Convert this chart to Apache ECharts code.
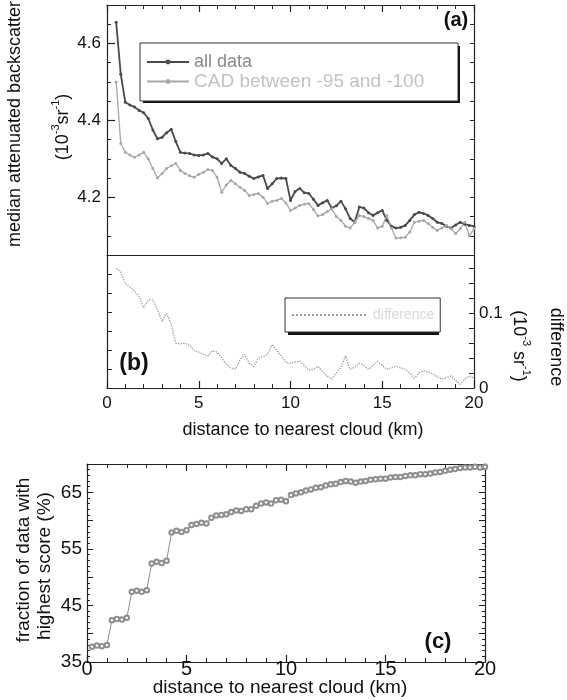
<!DOCTYPE html>
<html>
<head>
<meta charset="utf-8">
<script src="https://cdn.jsdelivr.net/npm/echarts@6/dist/echarts.min.js"></script>
<style>html,body{margin:0;padding:0;background:#fff}#c{width:567px;height:700px}</style>
</head>
<body>
<div id="c"></div>
<script>
// distance to nearest cloud (km), panels (a) and (b)
const dist = [0.5,0.75,1.0,1.25,1.5,1.75,2.0,2.25,2.5,2.75,3.0,3.25,3.5,3.75,4.0,4.25,4.5,4.75,5.0,5.25,5.5,5.75,6.0,6.25,6.5,6.75,7.0,7.25,7.5,7.75,8.0,8.25,8.5,8.75,9.0,9.25,9.5,9.75,10.0,10.25,10.5,10.75,11.0,11.25,11.5,11.75,12.0,12.25,12.5,12.75,13.0,13.25,13.5,13.75,14.0,14.25,14.5,14.75,15.0,15.25,15.5,15.75,16.0,16.25,16.5,16.75,17.0,17.25,17.5,17.75,18.0,18.25,18.5,18.75,19.0,19.25,19.5,19.75,20.0];
// (a) median attenuated backscatter, all data
const allData = [4.655,4.52,4.447,4.44,4.435,4.426,4.42,4.405,4.375,4.352,4.356,4.368,4.377,4.345,4.317,4.315,4.314,4.31,4.309,4.31,4.314,4.305,4.30,4.288,4.30,4.283,4.275,4.265,4.262,4.255,4.249,4.253,4.257,4.223,4.235,4.249,4.25,4.249,4.192,4.215,4.223,4.212,4.21,4.195,4.179,4.186,4.192,4.172,4.178,4.19,4.17,4.145,4.135,4.175,4.172,4.16,4.153,4.16,4.166,4.14,4.125,4.12,4.122,4.127,4.14,4.155,4.161,4.158,4.153,4.145,4.135,4.132,4.125,4.12,4.128,4.135,4.13,4.127,4.125];
// (a) CAD between -95 and -100
const cadData = [4.50,4.34,4.317,4.31,4.304,4.31,4.317,4.30,4.275,4.25,4.262,4.275,4.282,4.288,4.27,4.262,4.256,4.252,4.26,4.265,4.272,4.27,4.252,4.213,4.232,4.244,4.235,4.226,4.218,4.205,4.207,4.21,4.20,4.184,4.19,4.192,4.197,4.185,4.166,4.172,4.179,4.182,4.184,4.168,4.152,4.155,4.163,4.17,4.15,4.14,4.125,4.12,4.135,4.153,4.15,4.145,4.14,4.12,4.125,4.153,4.12,4.094,4.095,4.096,4.11,4.135,4.138,4.14,4.132,4.122,4.114,4.12,4.127,4.118,4.106,4.118,4.135,4.10,4.118];
// (b) difference
const diffData = [0.16,0.155,0.14,0.135,0.13,0.122,0.107,0.118,0.118,0.105,0.089,0.1,0.085,0.06,0.059,0.06,0.057,0.05,0.048,0.045,0.043,0.05,0.048,0.04,0.032,0.027,0.025,0.038,0.045,0.033,0.029,0.04,0.042,0.045,0.058,0.05,0.043,0.034,0.033,0.035,0.036,0.03,0.024,0.025,0.029,0.022,0.016,0.012,0.02,0.028,0.043,0.025,0.028,0.033,0.03,0.025,0.03,0.036,0.03,0.025,0.027,0.029,0.027,0.025,0.02,0.013,0.02,0.023,0.021,0.019,0.015,0.012,0.014,0.016,0.01,0.005,0.012,0.016,0.013];
// (c) distance and fraction of data with highest score (%)
const distC = [0.25,0.5,0.75,1.0,1.25,1.5,1.75,2.0,2.25,2.5,2.75,3.0,3.25,3.5,3.75,4.0,4.25,4.5,4.75,5.0,5.25,5.5,5.75,6.0,6.25,6.5,6.75,7.0,7.25,7.5,7.75,8.0,8.25,8.5,8.75,9.0,9.25,9.5,9.75,10.0,10.25,10.5,10.75,11.0,11.25,11.5,11.75,12.0,12.25,12.5,12.75,13.0,13.25,13.5,13.75,14.0,14.25,14.5,14.75,15.0,15.25,15.5,15.75,16.0,16.25,16.5,16.75,17.0,17.25,17.5,17.75,18.0,18.25,18.5,18.75,19.0,19.25,19.5,19.75,20.0];
const fraction = [37.7,37.9,37.8,38.0,42.4,42.6,42.5,42.8,47.4,47.6,47.4,47.7,52.4,52.7,52.5,52.9,57.9,58.2,58.0,58.3,59.2,59.4,59.6,59.5,60.5,60.9,61.0,61.1,61.5,61.8,61.7,62.0,62.0,62.6,63.0,63.2,63.0,63.6,63.7,63.4,64.5,64.8,65.0,65.3,65.5,65.8,65.9,66.2,66.4,66.5,66.8,67.0,66.9,66.7,66.9,67.0,67.2,67.3,67.4,67.4,67.6,67.7,67.7,67.9,68.0,68.0,68.2,68.2,68.3,68.5,68.6,68.8,69.0,69.1,69.3,69.4,69.4,69.5,69.4,69.5];
// tick labels
const aTicks = [4.2, 4.4, 4.6];
const bTicks = [0, 0.1];
const cTicks = [35, 45, 55, 65];
const xTicks = [0, 5, 10, 15, 20];

const FONT = '"Liberation Sans", Arial, sans-serif';
const zip = (xs, ys) => xs.map((x, i) => [x, ys[i]]);
const axCol = '#222';

const chart = echarts.init(document.getElementById('c'), null, {renderer: 'canvas'});

function xAx(grid, pos, showLabels, fs, margin) {
  return {
    type: 'value', gridIndex: grid, position: pos, min: 0, max: 20, interval: 5,
    axisLine: {show: true, onZero: false, lineStyle: {color: axCol, width: 1.2}},
    axisTick: {show: true, inside: true, length: 7, lineStyle: {color: axCol, width: 1.2}},
    minorTick: {show: true, splitNumber: 5, length: 4, lineStyle: {color: axCol}},
    axisLabel: {show: showLabels, fontSize: fs || 17, color: '#111', fontFamily: FONT, margin: margin,
      customValues: xTicks},
    splitLine: {show: false}
  };
}

const option = {
  animation: false,
  backgroundColor: '#fff',
  grid: [
    {left: 107, top: 5, width: 367, height: 250},
    {left: 107, top: 255, width: 367, height: 133},
    {left: 87, top: 464, width: 398, height: 198}
  ],
  xAxis: [
    {type: 'value', gridIndex: 0, position: 'bottom', min: 0, max: 20, interval: 5,
     axisLine: {show: true, onZero: false, lineStyle: {color: axCol, width: 1.2}},
     axisTick: {show: false}, axisLabel: {show: false}, splitLine: {show: false}},
    xAx(0, 'top', false, 17, 6),
    xAx(1, 'bottom', true, 17, 7),
    xAx(2, 'bottom', true, 20, -3),
    xAx(2, 'top', false, 17, 6)
  ],
  yAxis: [
    {type: 'value', gridIndex: 0, position: 'left', min: 4.05, max: 4.7,
     axisLine: {show: true, onZero: false, lineStyle: {color: axCol, width: 1.2}},
     axisTick: {show: true, inside: true, length: 8, customValues: aTicks, lineStyle: {color: axCol, width: 1.2}},
     axisLabel: {show: true, customValues: aTicks, fontSize: 17, color: '#111', fontFamily: FONT, margin: 6,
       formatter: v => v.toFixed(1)},
     splitLine: {show: false}},
    {type: 'value', gridIndex: 0, position: 'left', min: 4.05, max: 4.7, interval: 0.05,
     axisLine: {show: false}, axisTick: {show: true, inside: true, length: 4, lineStyle: {color: axCol}},
     axisLabel: {show: false}, splitLine: {show: false}},
    {type: 'value', gridIndex: 0, position: 'right', min: 4.05, max: 4.7, interval: 0.05,
     axisLine: {show: true, onZero: false, lineStyle: {color: axCol, width: 1.2}},
     axisTick: {show: true, inside: true, length: 4, lineStyle: {color: axCol}},
     axisLabel: {show: false}, splitLine: {show: false}},
    {type: 'value', gridIndex: 1, position: 'left', min: 3.7, max: 4.05, interval: 0.05,
     axisLine: {show: true, onZero: false, lineStyle: {color: axCol, width: 1.2}},
     axisTick: {show: true, inside: true, length: 5, lineStyle: {color: axCol}},
     axisLabel: {show: false}, splitLine: {show: false}},
    {type: 'value', gridIndex: 1, position: 'right', min: 0, max: 0.178, interval: 0.02,
     axisLine: {show: true, onZero: false, lineStyle: {color: axCol, width: 1.2}},
     axisTick: {show: true, inside: true, length: 5, lineStyle: {color: axCol}},
     axisLabel: {show: true, customValues: bTicks, fontSize: 17, color: '#111', fontFamily: FONT, margin: 5,
       formatter: v => (v === 0 ? '0' : String(v))},
     splitLine: {show: false}},
    {type: 'value', gridIndex: 2, position: 'left', min: 35, max: 70, interval: 5,
     axisLine: {show: true, onZero: false, lineStyle: {color: axCol, width: 1.2}},
     axisTick: {show: true, inside: true, length: 6, lineStyle: {color: axCol}},
     minorTick: {show: true, splitNumber: 5, length: 3, lineStyle: {color: axCol}},
     axisLabel: {show: true, customValues: cTicks, fontSize: 19, color: '#111', fontFamily: FONT, margin: 5},
     splitLine: {show: false}},
    {type: 'value', gridIndex: 2, position: 'right', min: 35, max: 70, interval: 5,
     axisLine: {show: true, onZero: false, lineStyle: {color: axCol, width: 1.2}},
     axisTick: {show: true, inside: true, length: 6, lineStyle: {color: axCol}},
     minorTick: {show: true, splitNumber: 5, length: 3, lineStyle: {color: axCol}},
     axisLabel: {show: false}, splitLine: {show: false}}
  ],
  legend: [
    {
      orient: 'vertical', left: 140, top: 43, padding: [10, 4, 10, 6], itemGap: 1,
      itemWidth: 42, itemHeight: 6, z: 10,
      backgroundColor: '#fff', borderColor: '#333', borderWidth: 1,
      textStyle: {fontSize: 18, fontFamily: FONT, color: '#999', width: 260, lineHeight: 18},
      data: [
        {name: 'all data', textStyle: {color: '#8a8a8a'}},
        {name: 'CAD between -95 and -100', textStyle: {color: '#c2c2c2', fontSize: 19}}
      ]
    },
    {
      orient: 'vertical', left: 285, top: 298, padding: [10, 6, 10, 6],
      itemWidth: 76, itemHeight: 12, z: 10,
      backgroundColor: '#fff', borderColor: '#333', borderWidth: 1,
      itemStyle: {opacity: 0},
      textStyle: {fontSize: 14, fontFamily: FONT, color: '#d9d9d9'},
      data: ['difference']
    }
  ],
  series: [
    {name: 'all data', type: 'line', xAxisIndex: 0, yAxisIndex: 0,
     data: zip(dist, allData), symbol: 'circle', symbolSize: 3, showSymbol: true,
     color: '#4a4a4a', lineStyle: {color: '#4a4a4a', width: 1.8}, itemStyle: {color: '#4a4a4a'}},
    {name: 'CAD between -95 and -100', type: 'line', xAxisIndex: 0, yAxisIndex: 0,
     data: zip(dist, cadData), symbol: 'circle', symbolSize: 3, showSymbol: true,
     color: '#a8a8a8', lineStyle: {color: '#a8a8a8', width: 1.3}, itemStyle: {color: '#a8a8a8'}},
    {name: 'difference', type: 'line', xAxisIndex: 2, yAxisIndex: 4,
     data: zip(dist, diffData), symbol: 'none',
     color: '#9a9a9a', lineStyle: {color: '#9a9a9a', width: 1.3, type: 'dotted'}},
    {name: 'fraction', type: 'line', xAxisIndex: 3, yAxisIndex: 5,
     data: zip(distC, fraction), symbol: 'emptyCircle', symbolSize: 4.5, showSymbol: true,
     color: '#8f8f8f', lineStyle: {color: '#8f8f8f', width: 1}, itemStyle: {color: '#8f8f8f', borderWidth: 1}}
  ],
  graphic: [
    // legend hard shadows
    {type: 'rect', z: 5, shape: {x: 143, y: 46, width: 317, height: 57}, style: {fill: '#111'}},
    {type: 'rect', z: 5, shape: {x: 288, y: 301, width: 151, height: 34}, style: {fill: '#111'}},
    {type: 'text', x: 15, y: 124, rotation: Math.PI / 2,
     style: {text: 'median attenuated backscatter', font: '18px ' + FONT, fill: '#111', align: 'center', verticalAlign: 'middle'}},
    {type: 'text', x: 61, y: 127, rotation: Math.PI / 2,
     style: {text: '{n|(10}{s|-3}{n|sr}{s|-1}{n|)}', fill: '#111', align: 'center', verticalAlign: 'middle',
       rich: {n: {fontSize: 18, fontFamily: FONT, lineHeight: 22, verticalAlign: 'bottom'},
              s: {fontSize: 11, fontFamily: FONT, lineHeight: 12, verticalAlign: 'top'}}}},
    {type: 'text', x: 521, y: 346, rotation: -Math.PI / 2,
     style: {text: '{n|(10}{s|-3}{n| sr}{s|-1}{n|)}', fill: '#111', align: 'center', verticalAlign: 'middle',
       rich: {n: {fontSize: 18, fontFamily: FONT, lineHeight: 22, verticalAlign: 'bottom'},
              s: {fontSize: 11, fontFamily: FONT, lineHeight: 12, verticalAlign: 'top'}}}},
    {type: 'text', x: 556, y: 347, rotation: -Math.PI / 2,
     style: {text: 'difference', font: '18px ' + FONT, fill: '#111', align: 'center', verticalAlign: 'middle'}},
    {type: 'text', x: 303, y: 430,
     style: {text: 'distance to nearest cloud (km)', font: '18px ' + FONT, fill: '#111', align: 'center', verticalAlign: 'middle'}},
    {type: 'text', x: 280, y: 688,
     style: {text: 'distance to nearest cloud (km)', font: '19px ' + FONT, fill: '#111', align: 'center', verticalAlign: 'middle'}},
    {type: 'text', x: 24, y: 560, rotation: Math.PI / 2,
     style: {text: 'fraction of data with', font: '19px ' + FONT, fill: '#111', align: 'center', verticalAlign: 'middle'}},
    {type: 'text', x: 45, y: 566, rotation: Math.PI / 2,
     style: {text: 'highest score (%)', font: '19px ' + FONT, fill: '#111', align: 'center', verticalAlign: 'middle'}},
    {type: 'text', x: 456, y: 20,
     style: {text: '(a)', font: 'bold 20px ' + FONT, fill: '#111', align: 'center', verticalAlign: 'middle'}},
    {type: 'text', x: 134, y: 364,
     style: {text: '(b)', font: 'bold 23px ' + FONT, fill: '#111', align: 'center', verticalAlign: 'middle'}},
    {type: 'text', x: 438, y: 642,
     style: {text: '(c)', font: 'bold 22px ' + FONT, fill: '#111', align: 'center', verticalAlign: 'middle'}}
  ]
};
chart.setOption(option);
</script>
</body>
</html>
